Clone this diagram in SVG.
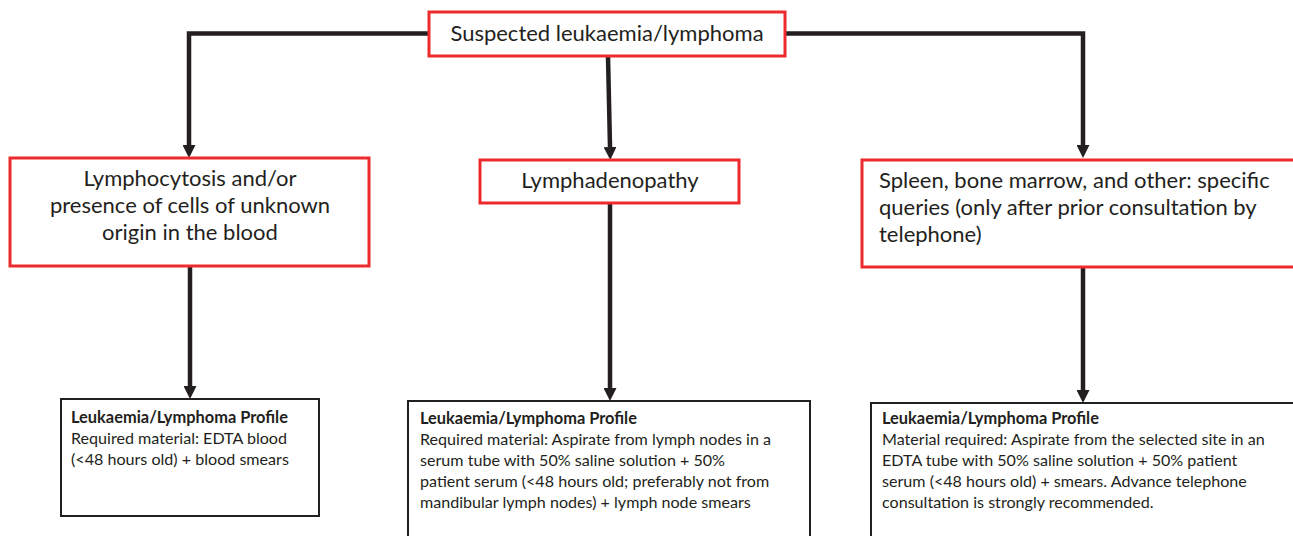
<svg xmlns="http://www.w3.org/2000/svg" width="1293" height="536" viewBox="0 0 1293 536">
<defs>
<style>
.red{fill:#fff;stroke:#ed2b2f;stroke-width:3}
.blk{fill:#fff;stroke:#231f20;stroke-width:2}
.t{font-family:Lato,"Liberation Sans",sans-serif;font-size:22px;fill:#231f20}
.s{font-family:Lato,"Liberation Sans",sans-serif;font-size:16.1px;fill:#231f20}
.b{font-weight:bold;font-size:16.4px}
.c{text-anchor:middle}
.con{fill:none;stroke:#231f20;stroke-width:4.5}
</style>
<marker id="ah" markerUnits="userSpaceOnUse" markerWidth="13" markerHeight="13" viewBox="0 0 13 13" refX="0" refY="6.5" orient="auto">
<path d="M0,0 L13,6.5 L0,13 z" fill="#231f20"/>
</marker>
</defs>
<rect width="1293" height="536" fill="#fff"/>
<g id="connectors">
<path class="con" d="M429,33.5 H189 V145" marker-end="url(#ah)"/>
<path class="con" d="M608,56 L610,147" marker-end="url(#ah)"/>
<path class="con" d="M785,33.5 H1083 V145" marker-end="url(#ah)"/>
<path class="con" d="M190,266 V386" marker-end="url(#ah)"/>
<path class="con" d="M610,203 V388" marker-end="url(#ah)"/>
<path class="con" d="M1083,267 V390" marker-end="url(#ah)"/>
</g>
<g id="n-top">
<rect class="red" x="429" y="12" width="356" height="44"/>
<text class="t c" x="607" y="41">Suspected leukaemia/lymphoma</text>
</g>
<g id="n-lympho">
<rect class="red" x="10" y="158" width="359" height="108"/>
<text class="t c" x="190" y="186">Lymphocytosis and/or</text>
<text class="t c" x="190" y="213">presence of cells of unknown</text>
<text class="t c" x="190" y="240">origin in the blood</text>
</g>
<g id="n-lymphad">
<rect class="red" x="480" y="160" width="259" height="43"/>
<text class="t c" x="610" y="188">Lymphadenopathy</text>
</g>
<g id="n-spleen">
<rect class="red" x="862" y="160" width="440" height="107"/>
<text class="t" x="879" y="188">Spleen, bone marrow, and other: specific</text>
<text class="t" x="879" y="215">queries (only after prior consultation by</text>
<text class="t" x="879" y="242">telephone)</text>
</g>
<g id="n-profile1">
<rect class="blk" x="61" y="399" width="258" height="117"/>
<text class="s b" x="71" y="423">Leukaemia/Lymphoma Profile</text>
<text class="s" x="71" y="444">Required material: EDTA blood</text>
<text class="s" x="71" y="465">(&lt;48 hours old) + blood smears</text>
</g>
<g id="n-profile2">
<rect class="blk" x="408" y="401" width="402" height="150"/>
<text class="s b" x="420" y="424">Leukaemia/Lymphoma Profile</text>
<text class="s" x="420" y="445">Required material: Aspirate from lymph nodes in a</text>
<text class="s" x="420" y="466">serum tube with 50% saline solution + 50%</text>
<text class="s" x="420" y="487">patient serum (&lt;48 hours old; preferably not from</text>
<text class="s" x="420" y="508">mandibular lymph nodes) + lymph node smears</text>
</g>
<g id="n-profile3">
<rect class="blk" x="871" y="403" width="440" height="150"/>
<text class="s b" x="882" y="424">Leukaemia/Lymphoma Profile</text>
<text class="s" x="882" y="445">Material required: Aspirate from the selected site in an</text>
<text class="s" x="882" y="466">EDTA tube with 50% saline solution + 50% patient</text>
<text class="s" x="882" y="487">serum (&lt;48 hours old) + smears. Advance telephone</text>
<text class="s" x="882" y="508">consultation is strongly recommended.</text>
</g>
</svg>
